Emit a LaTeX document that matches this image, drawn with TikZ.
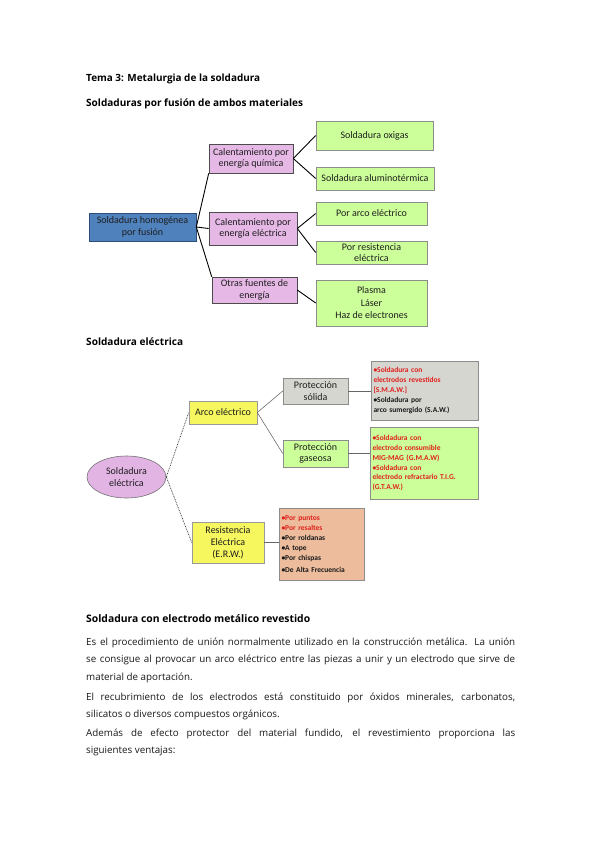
\documentclass[tikz,border=0pt]{standalone}
\usepackage{fontspec}
\setmainfont{Open Sans}
\newfontfamily\boxfont{Carlito}
\usetikzlibrary{shapes.geometric,shadows,calc}

\definecolor{blueF}{HTML}{4F81BD}
\definecolor{blueD}{HTML}{2C4D75}
\definecolor{pinkF}{HTML}{E6B8E6}
\definecolor{greenF}{HTML}{CCFF99}
\definecolor{ellF}{HTML}{E2B4E4}
\definecolor{yelF}{HTML}{F6F65E}
\definecolor{grayF}{HTML}{D6D6D1}
\definecolor{orgF}{HTML}{ECBC9C}
\definecolor{redT}{HTML}{E0201C}
\definecolor{txt}{HTML}{1E1E1E}

\tikzset{
  box/.style={draw=black!60, line width=0.6pt, inner sep=1pt, align=center,
    font=\boxfont\fontsize{10}{11.5}\selectfont, text=txt},
  shad/.style={drop shadow={shadow xshift=1pt, shadow yshift=-1pt, fill=black!75, opacity=1}},
  bluebox/.style={box, shad, fill=blueF, draw=blueD},
  pinkbox/.style={box, shad, fill=pinkF, draw=black!70},
  greenbox/.style={box, shad, fill=greenF, draw=black!45},
  yelbox/.style={box, fill=yelF, draw=black!40, line width=0.5pt},
  graybox/.style={box, fill=grayF, draw=black!45, line width=0.5pt},
  listbox/.style={box, shad, align=left, inner xsep=2.5pt, inner ysep=1pt,
    font=\boxfont\bfseries\fontsize{7.5}{9.9}\selectfont, text=black!90, draw=black!45, line width=0.5pt},
  conA/.style={draw=black, line width=0.9pt},
  conB/.style={draw=black!60, line width=0.55pt},
  conD/.style={draw=black!80, line width=0.7pt, dash pattern=on 0.8pt off 0.9pt},
  head/.style={anchor=base west, inner sep=0pt, text=black},
  body/.style={anchor=base west, inner sep=0pt, text=black!90, font=\fontsize{9.8}{12}\selectfont},
}

\begin{document}
\begin{tikzpicture}[x=1pt, y=-1pt]
\fill[white] (0,0) rectangle (599,848);
\path[use as bounding box] (0,0) rectangle (599,848);

% headings
\node[head] (h1) at (86,81.5) {\resizebox{174pt}{!}{\bfseries Tema 3: Metalurgia de la soldadura}};
\node[head] (h2) at (86,106.5) {\resizebox{217pt}{!}{\bfseries Soldaduras por fusión de ambos materiales}};
\node[head] (h3) at (86,345.5) {\resizebox{97pt}{!}{\bfseries Soldadura eléctrica}};
\node[head] (h4) at (86,622.5) {\resizebox{224pt}{!}{\bfseries Soldadura con electrodo metálico revestido}};

% diagram 1
\node[bluebox, minimum width=107, minimum height=28] (blue) at (142.5,227) {Soldadura homogénea\\por fusión};
\node[pinkbox, minimum width=84, minimum height=29] (pk1) at (251,158.5) {Calentamiento por\\energía química};
\node[pinkbox, minimum width=88, minimum height=33] (pk2) at (253,228.5) {Calentamiento por\\energía eléctrica};
\node[pinkbox, minimum width=85, minimum height=26] (pk3) at (254.5,290) {Otras fuentes de\\energía};
\node[greenbox, minimum width=117, minimum height=29] (g1) at (374.5,135.5) {Soldadura oxigas};
\node[greenbox, minimum width=118, minimum height=23] (g2) at (375,178.5) {Soldadura aluminotérmica};
\node[greenbox, minimum width=111, minimum height=23] (g3) at (371.5,213.5) {Por arco eléctrico};
\node[greenbox, minimum width=111, minimum height=23] (g4) at (371.5,252.5) {Por resistencia\\eléctrica};
\node[greenbox, minimum width=111, minimum height=46, font=\boxfont\fontsize{10}{12.5}\selectfont] (g5) at (371.5,303) {Plasma\\Láser\\Haz de electrones};

\draw[conA] (blue.east) -- (pk1.south west);
\draw[conA] (blue.east) -- (pk2.west);
\draw[conA] (blue.east) -- (pk3.north west);
\draw[conA] (pk1.east) -- (g1.west);
\draw[conA] (pk1.east) -- (g2.west);
\draw[conA] (pk2.east) -- (g3.west);
\draw[conA] (pk2.east) -- (g4.west);
\draw[conA] (pk3.east) -- (g5.west);

% diagram 2
\node[ellipse, draw=black!55, line width=0.6pt, fill=ellF, minimum width=79, minimum height=42, inner sep=0pt, align=center, text=txt, font=\boxfont\fontsize{10}{12}\selectfont] (ell) at (126.5,477) {Soldadura\\eléctrica};
\node[yelbox, minimum width=68, minimum height=23] (arco) at (223,412.5) {Arco eléctrico};
\node[yelbox, minimum width=72, minimum height=41, font=\boxfont\fontsize{10}{12}\selectfont] (res) at (228,542.5) {Resistencia\\Eléctrica\\(E.R.W.)};
\node[graybox, minimum width=65, minimum height=26, font=\boxfont\fontsize{10}{11.5}\selectfont] (psol) at (315.5,391) {Protección\\sólida};
\node[box, fill=greenF, draw=black!45, line width=0.5pt, minimum width=65, minimum height=27] (pgas) at (315.5,453.5) {Protección\\gaseosa};

\node[listbox, fill=grayF, minimum width=107, minimum height=59, text width=102pt] (lgray) at (424.5,390.5) {%
\textcolor{redT}{\textbullet Soldadura con}\\
\textcolor{redT}{electrodos revestidos}\\
\textcolor{redT}{[S.M.A.W.]}\\
\textbullet Soldadura por\\
arco sumergido (S.A.W.)};
\node[listbox, fill=greenF, minimum width=108, minimum height=72, text width=103pt] (lgreen) at (424,463) {%
\textcolor{redT}{\textbullet Soldadura con}\\
\textcolor{redT}{electrodo consumible}\\
\textcolor{redT}{MIG-MAG (G.M.A.W)}\\
\textcolor{redT}{\textbullet Soldadura con}\\
\textcolor{redT}{electrodo refractario T.I.G.}\\
\textcolor{redT}{(G.T.A.W.)}};
\node[listbox, fill=orgF, minimum width=85, minimum height=72, text width=80pt] (lorg) at (321.5,544) {%
\textcolor{redT}{\textbullet Por puntos}\\
\textcolor{redT}{\textbullet Por resaltes}\\
\textbullet Por roldanas\\
\textbullet A tope\\
\textbullet Por chispas\\[2pt]
\textbullet De Alta Frecuencia};

\draw[conD] (ell.east) -- (arco.west);
\draw[conD] (ell.east) -- (res.west);
\draw[conB] (arco.east) -- (psol.west);
\draw[conB] (arco.east) -- (pgas.west);
\draw[conB] (psol.east) -- (psol.east -| lgray.west);
\draw[conB] (pgas.east) -- (pgas.east -| lgreen.west);
\draw[conB] (res.east) -- (res.east -| lorg.west);

% body text
\node[body] (t1) at (86,645) {\makebox[429pt][s]{Es el procedimiento de unión normalmente utilizado en la construcción metálica. La unión}};
\node[body] (t2) at (86,662.5) {\makebox[429pt][s]{se consigue al provocar un arco eléctrico entre las piezas a unir y un electrodo que sirve de}};
\node[body] (t3) at (86,680) {material de aportación.};
\node[body] (t4) at (86,700) {\makebox[429pt][s]{El recubrimiento de los electrodos está constituido por óxidos minerales, carbonatos,}};
\node[body] (t5) at (86,717) {silicatos o diversos compuestos orgánicos.};
\node[body] (t6) at (86,736) {\makebox[429pt][s]{Además de efecto protector del material fundido, el revestimiento proporciona las}};
\node[body] (t7) at (86,753.5) {siguientes ventajas:};
\end{tikzpicture}
\end{document}
